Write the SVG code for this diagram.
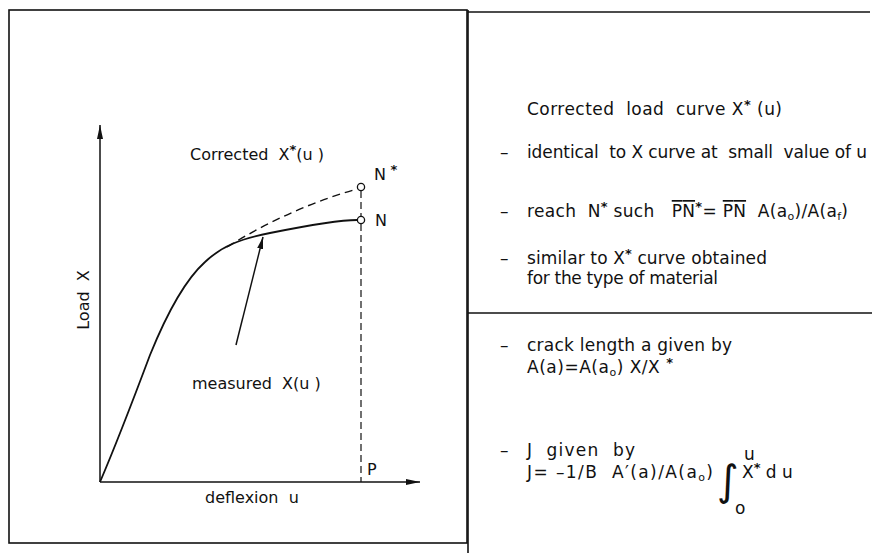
<svg xmlns="http://www.w3.org/2000/svg" width="887" height="553" viewBox="0 0 887 553" xml:space="preserve">
<style>
text{font-family:"DejaVu Sans","Liberation Sans",sans-serif;font-size:16px;fill:#111;white-space:pre}
.r text{font-size:17px}
.sup{font-size:13px;font-weight:bold}
.r .sup{font-size:13px}
.sub{font-size:11px}
.r .sub{font-size:11px}
.frame{fill:none;stroke:#111;stroke-width:1.6}
.ax{fill:none;stroke:#111;stroke-width:1.5}
.crv{fill:none;stroke:#111;stroke-width:1.8}
.dash{fill:none;stroke:#111;stroke-width:1.4;stroke-dasharray:8 5}
.vd{fill:none;stroke:#111;stroke-width:1.2;stroke-dasharray:7 4}
</style>
<defs>
<marker id="ah" viewBox="0 0 14 8" refX="14" refY="4" markerWidth="14" markerHeight="8" markerUnits="userSpaceOnUse" orient="auto">
<path d="M0,1 L14,4 L0,7 Z" fill="#111"/>
</marker>
<marker id="ah2" viewBox="0 0 12 8" refX="12" refY="4" markerWidth="12" markerHeight="8" markerUnits="userSpaceOnUse" orient="auto">
<path d="M0,1 L12,4 L0,7 Z" fill="#111"/>
</marker>
</defs>
<rect width="887" height="553" fill="#fff"/>
<g id="frames">
<rect class="frame" x="9" y="10" width="458" height="533"/>
<line class="frame" x1="468" y1="12" x2="870" y2="12"/>
<line class="frame" x1="468" y1="10" x2="468" y2="553"/>
<line class="frame" x1="468" y1="313" x2="872" y2="313"/>
</g>
<g id="axes">
<line class="ax" x1="100" y1="482" x2="100" y2="125" marker-end="url(#ah)"/>
<line class="ax" x1="100" y1="482" x2="420" y2="482" marker-end="url(#ah)"/>
<text x="89" y="300" text-anchor="middle" transform="rotate(-90 89 300)">Load  X</text>
<text x="205" y="503">deflexion  u</text>
</g>
<g id="connectors">
<path class="crv" d="M100,482 C118,440 135,395 150,355 C165,318 185,280 205,262 C222,246 240,239 270,233 C310,225 340,220 357,220"/>
<path class="dash" d="M227,247 Q290,208 357,189"/>
<line class="vd" x1="361" y1="191" x2="361" y2="482"/>
<line class="ax" x1="236" y1="345" x2="263" y2="237" marker-end="url(#ah2)"/>
</g>
<g id="node-Nstar">
<circle cx="361" cy="187" r="3.6" fill="#fff" stroke="#111" stroke-width="1.3"/>
<text x="374" y="180">N<tspan class="sup" dy="-6"> *</tspan></text>
</g>
<g id="node-N">
<circle cx="361" cy="220" r="3.6" fill="#fff" stroke="#111" stroke-width="1.3"/>
<text x="375" y="226">N</text>
</g>
<g id="node-P">
<text x="367" y="475">P</text>
</g>
<g id="label-corrected">
<text x="190" y="160">Corrected  X<tspan class="sup" dy="-6">*</tspan><tspan dy="6">(u )</tspan></text>
</g>
<g id="label-measured">
<text x="192" y="389">measured  X(u )</text>
</g>
<g id="panel-top" class="r">
<text x="527" y="115" textLength="255">Corrected  load  curve X<tspan class="sup" dy="-6">*</tspan><tspan dy="6"> (u)</tspan></text>
<text x="500" y="158">–</text>
<text x="527" y="158" textLength="340">identical  to X curve at  small  value of u</text>
<text x="500" y="217">–</text>
<text x="527" y="217" textLength="321">reach  N<tspan class="sup" dy="-6">*</tspan><tspan dy="6"> such   </tspan><tspan text-decoration="overline">PN</tspan><tspan class="sup" dy="-6">*</tspan><tspan dy="6">= </tspan><tspan text-decoration="overline">PN</tspan>  A(a<tspan class="sub" dy="3">o</tspan><tspan dy="-3">)/A(a</tspan><tspan class="sub" dy="3">f</tspan><tspan dy="-3">)</tspan></text>
<text x="500" y="264">–</text>
<text x="527" y="264" textLength="240">similar to X<tspan class="sup" dy="-6">*</tspan><tspan dy="6"> curve obtained</tspan></text>
<text x="527" y="284" textLength="191">for the type of material</text>
</g>
<g id="panel-bottom" class="r">
<text x="500" y="351">–</text>
<text x="527" y="351" textLength="205">crack length a given by</text>
<text x="527" y="373" textLength="146">A(a)=A(a<tspan class="sub" dy="3">o</tspan><tspan dy="-3">) X/X </tspan><tspan class="sup" dy="-6">*</tspan></text>
<text x="500" y="456">–</text>
<text x="527" y="456" textLength="108">J  given  by</text>
<text x="527" y="478" textLength="186">J= –1/B  A′(a)/A(a<tspan class="sub" dy="3">o</tspan><tspan dy="-3">)</tspan></text>
<text x="717" y="495" style="font-size:42px">∫</text>
<text x="744" y="460">u</text>
<text x="735" y="514">o</text>
<text x="742" y="478">X<tspan class="sup" dy="-6">*</tspan><tspan dy="6"> d u</tspan></text>
</g>
</svg>
